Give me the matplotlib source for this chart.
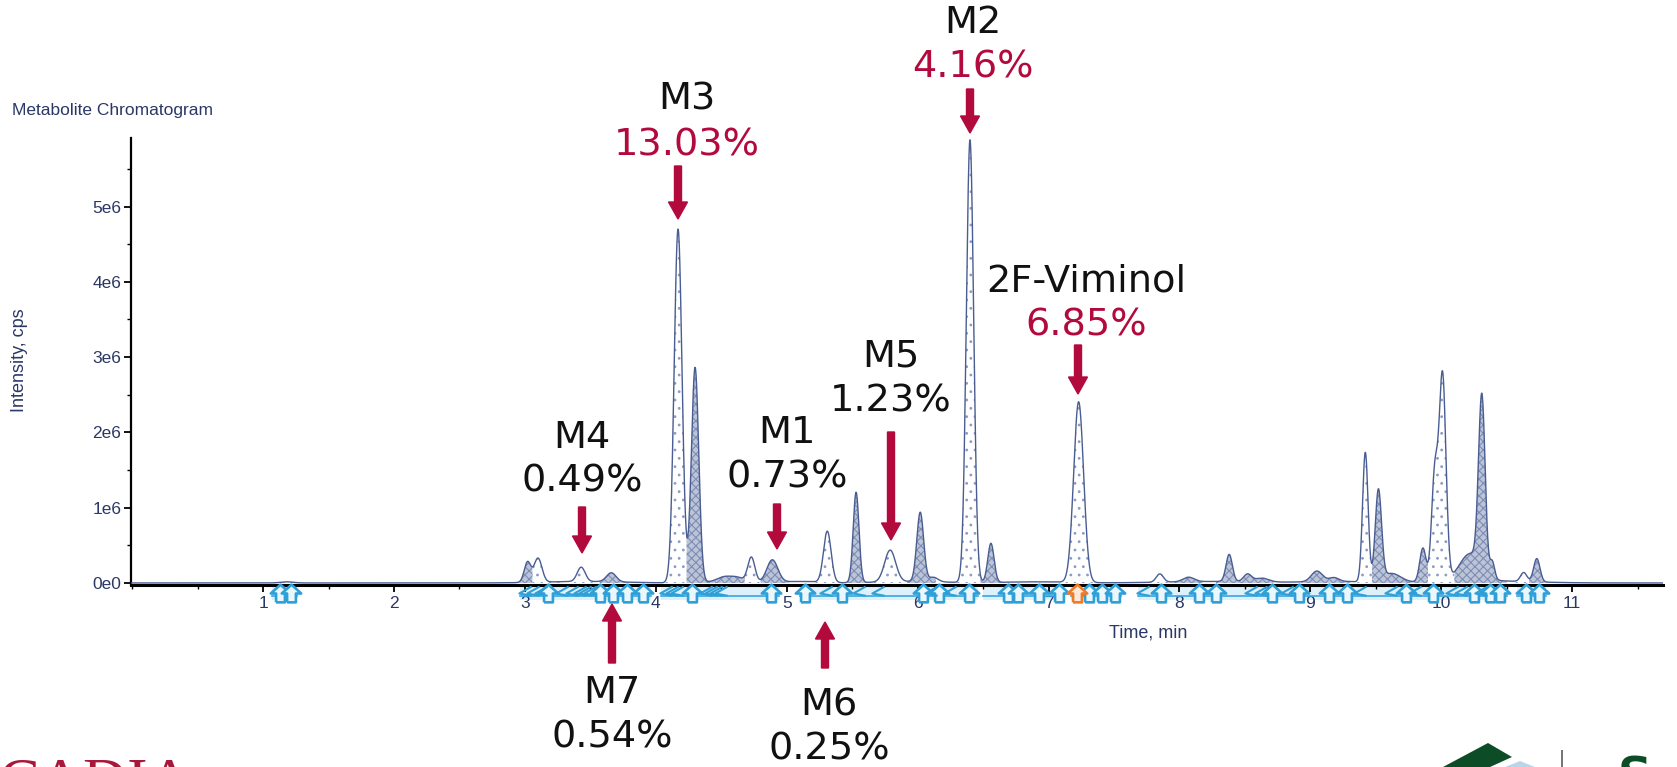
import numpy as np
import matplotlib
matplotlib.use("Agg")
import matplotlib.pyplot as plt
from matplotlib.patches import FancyArrow, Polygon, Rectangle
from matplotlib.path import Path
from matplotlib.transforms import IdentityTransform
from matplotlib.ticker import MultipleLocator, FuncFormatter

W, H = 1677, 767

# ---------------- peak table ----------------
peak_rt = [1.18, 3.02, 3.10, 3.43, 3.66, 4.17, 4.30, 4.52, 4.62, 4.73, 4.89,
           5.31, 5.53, 5.79, 6.02, 6.12, 6.40, 6.56, 7.23, 7.85, 8.07, 8.38,
           8.52, 8.63, 9.05, 9.18, 9.42, 9.52, 9.62, 9.86, 9.95, 10.01, 10.22,
           10.31, 10.39, 10.63, 10.73]
peak_h = [0.015, 0.27, 0.32, 0.19, 0.12, 4.70, 2.86, 0.05, 0.05, 0.33, 0.30,
          0.68, 1.20, 0.42, 0.92, 0.06, 5.88, 0.52, 2.40, 0.11, 0.06, 0.36,
          0.10, 0.05, 0.14, 0.05, 1.72, 1.20, 0.12, 0.45, 1.40, 2.72, 0.36,
          2.30, 0.22, 0.12, 0.31]
peak_w = [0.05, 0.025, 0.03, 0.03, 0.036, 0.03, 0.028, 0.05, 0.05, 0.027, 0.042,
          0.029, 0.022, 0.042, 0.026, 0.035, 0.028, 0.024, 0.038, 0.027, 0.042, 0.024,
          0.03, 0.05, 0.042, 0.036, 0.021, 0.024, 0.07, 0.024, 0.024, 0.026, 0.08,
          0.025, 0.018, 0.024, 0.024]
# low broad baseline humps (rt, height, width)
base_rt = [3.45, 4.55, 5.1, 5.95, 6.9, 8.3, 9.2, 10.3]
base_h = [0.02, 0.03, 0.02, 0.02, 0.015, 0.02, 0.02, 0.03]
base_w = [0.30, 0.12, 0.15, 0.25, 0.25, 0.40, 0.20, 0.35]

# integrated regions: start, end, fill style (s = sparse dots, d = dense)
seg_start = [1.12, 2.95, 3.06, 3.36, 3.57, 4.07, 4.235, 4.45, 4.68, 4.80, 5.20,
             5.44, 5.65, 5.92, 6.28, 6.48, 7.08, 7.76, 7.96, 8.28, 8.47, 8.93,
             9.15, 9.33, 9.47, 9.78, 9.90, 10.10, 10.56, 10.67]
seg_end = [1.25, 3.06, 3.28, 3.52, 3.80, 4.235, 4.45, 4.68, 4.80, 5.02, 5.42,
           5.65, 5.92, 6.14, 6.48, 6.66, 7.38, 7.94, 8.18, 8.47, 8.72, 9.15,
           9.30, 9.47, 9.78, 9.90, 10.10, 10.50, 10.67, 10.82]
seg_style = ['s', 'd', 's', 's', 'd', 's', 'd', 'd', 's', 'd', 's',
             'd', 's', 'd', 's', 'd', 's', 's', 'd', 'd', 'd', 'd',
             'd', 's', 'd', 'd', 's', 'd', 's', 'd']

# peak finder markers under the axis
band_start = [1.07, 2.96, 4.04, 5.10, 6.50, 7.17, 7.68, 10.58]
band_end = [1.26, 3.96, 4.94, 6.46, 7.10, 7.55, 10.50, 10.80]
up_marks = [1.13, 1.21, 3.18, 3.57, 3.67, 3.78, 3.90, 4.28, 4.88, 5.14, 5.42,
            6.04, 6.16, 6.39, 6.69, 6.77, 6.93, 7.08, 7.31, 7.41, 7.51, 7.86,
            8.15, 8.28, 8.71, 8.91, 9.14, 9.28, 9.73, 9.94, 10.25, 10.37,
            10.45, 10.65, 10.75]
orange_marks = [7.22]
left_marks = [3.0, 3.06, 3.12, 3.28, 3.36, 3.42, 3.46, 3.5, 4.08, 4.12, 4.16,
              4.38, 4.42, 4.46, 4.5, 5.3, 5.55, 5.7, 6.1, 6.25, 7.72, 8.55,
              8.62, 8.82, 9.38, 9.62, 9.8, 10.08, 10.15, 10.3]

# labels: name, value, colour of value, text x, name y, value y (pixels from top)
lab_name = ['M2', 'M3', '2F-Viminol', 'M5', 'M1', 'M4', 'M7', 'M6']
lab_val = ['4.16%', '13.03%', '6.85%', '1.23%', '0.73%', '0.49%', '0.54%', '0.25%']
lab_red = [True, True, True, False, False, False, False, False]
lab_x = [973, 687, 1086, 891, 787, 582, 612, 829]
lab_y1 = [23, 100, 282, 356, 433, 438, 693, 706]
lab_y2 = [68, 146, 325, 402, 478, 482, 738, 749]
arr_x = [970, 678, 1078, 891, 777, 582, 612, 825]
arr_y0 = [89, 166, 345, 432, 504, 507, 663, 668]
arr_y1 = [133, 219, 394, 540, 549, 553, 604, 622]

red = '#b30a3e'
navy = '#2b3866'
trace_col = '#4a5d92'

t = np.linspace(-0.01, 11.7, 6000)
y = np.zeros_like(t)
for rt, hh, ww in zip(peak_rt + base_rt, peak_h + base_h, peak_w + base_w):
    y += hh * 1e6 * np.exp(-0.5 * ((t - rt) / ww) ** 2)

fig = plt.figure(figsize=(W / 100, H / 100), dpi=100)
ax = fig.add_axes([131 / W, 1 - 585 / H, (1663 - 131) / W, (585 - 138) / H])

plt.rcParams['hatch.linewidth'] = 0.8
for a, b, s in zip(seg_start, seg_end, seg_style):
    m = (t >= a) & (t <= b)
    if s == 'd':
        ax.fill_between(t[m], 0, y[m], facecolor='#bcc4d8', edgecolor='#7f8db3',
                        hatch='xxxx', linewidth=0, zorder=1)
    else:
        ax.fill_between(t[m], 0, y[m], facecolor='white', edgecolor='#8a9bc6',
                        hatch='..', linewidth=0, zorder=1)
ax.plot(t, y, color=trace_col, lw=1.0, zorder=3)

ax.set_xlim(-0.009, 11.694)
ax.set_ylim(-0.027e6, 5.91e6)
for sp in ['top', 'right']:
    ax.spines[sp].set_visible(False)
ax.spines['left'].set_linewidth(1.6)
ax.spines['bottom'].set_linewidth(2.2)
ax.xaxis.set_minor_locator(MultipleLocator(0.5))
ax.yaxis.set_major_locator(MultipleLocator(1e6))
ax.yaxis.set_minor_locator(MultipleLocator(0.5e6))
ax.set_xticks(range(1, 12))
ax.yaxis.set_major_formatter(FuncFormatter(lambda v, p: '%de%d' % (round(v / 1e6), 6 if v else 0)))
ax.tick_params(axis='both', which='major', length=5, width=1.3, labelsize=12.5,
               labelcolor=navy)
ax.tick_params(axis='both', which='minor', length=3, width=1.0)
ax.tick_params(axis='x', pad=3)
ax.tick_params(axis='y', pad=2)
for lbl in ax.get_xticklabels() + ax.get_yticklabels():
    lbl.set_fontfamily('Liberation Sans')

# peak finder band
px = 1e6 / 75.3
for a, b in zip(band_start, band_end):
    ax.add_patch(Rectangle((a, -17 * px), b - a, 13 * px, facecolor='#dcf1fb',
                           edgecolor='none', clip_on=False, zorder=0))
    ax.plot([a, b], [-13 * px, -13 * px], color='#3aa5dc', lw=1.2,
            clip_on=False, zorder=2)
arrow_path = Path([(-0.25, -0.5), (0.25, -0.5), (0.25, 0.0), (0.55, 0.0),
                   (0.0, 0.5), (-0.55, 0.0), (-0.25, 0.0), (-0.25, -0.5)])
left_path = Path([(0.4, 0.45), (-0.4, 0.0), (0.4, -0.15)], [1, 2, 2])
ax.plot(up_marks, [-10 * px] * len(up_marks), ls='none', marker=arrow_path,
        ms=14, mfc='#eaf7fd', mec='#2f9fd8', mew=1.9, clip_on=False, zorder=4)
ax.plot(orange_marks, [-10 * px] * len(orange_marks), ls='none', marker=arrow_path,
        ms=14, mfc='#fde9dc', mec='#f07a25', mew=1.9, clip_on=False, zorder=4)
ax.plot(left_marks, [-10 * px] * len(left_marks), ls='none', marker=left_path,
        ms=10, mfc='none', mec='#2f9fd8', mew=1.5, clip_on=False, zorder=4)

fig.text(12 / W, 1 - 110 / H, 'Metabolite Chromatogram', fontsize=12.5,
         color=navy, family='Liberation Sans', va='center')
fig.text(20 / W, 1 - 360 / H, 'Intensity, cps', fontsize=13, color=navy,
         family='Liberation Sans', rotation=90, va='center', ha='center')
fig.text(1148 / W, 1 - 633 / H, 'Time, min', fontsize=13, color=navy,
         family='Liberation Sans', va='center', ha='center')

for name, val, isred, x, y1, y2 in zip(lab_name, lab_val, lab_red, lab_x, lab_y1, lab_y2):
    fig.text(x / W, 1 - y1 / H, name, fontsize=27.5, color='#111111',
             ha='center', va='center', family='DejaVu Sans')
    fig.text(x / W, 1 - y2 / H, val, fontsize=27.5, color=red if isred else '#111111',
             ha='center', va='center', family='DejaVu Sans')

for x, y0, y1 in zip(arr_x, arr_y0, arr_y1):
    fig.add_artist(FancyArrow(x, H - y0, 0, y0 - y1, width=7, head_width=19,
                              head_length=17, length_includes_head=True,
                              color=red, transform=IdentityTransform()))

# logo fragments cut by the bottom edge
fig.text(-2 / W, 1 - 800 / H, 'CADIA', fontsize=44, color='#a8183a',
         family='Liberation Serif', va='baseline')
fig.add_artist(Polygon([(1443, 0), (1488, H - 743), (1512, H - 757), (1490, 0)],
                       facecolor='#0c4d28', edgecolor='none',
                       transform=IdentityTransform()))
fig.add_artist(Polygon([(1505, 0), (1520, H - 761), (1535, 0)],
                       facecolor='#b9d7ea', edgecolor='none',
                       transform=IdentityTransform()))
fig.add_artist(Polygon([(1561, 0), (1561, H - 750), (1563, H - 750), (1563, 0)],
                       facecolor='#777777', edgecolor='none',
                       transform=IdentityTransform()))
fig.text(1618 / W, 1 - 790 / H, 'S', fontsize=34, color='#0c4d28',
         family='DejaVu Sans', weight='bold', va='baseline')

fig.savefig('out.png', dpi=100)
